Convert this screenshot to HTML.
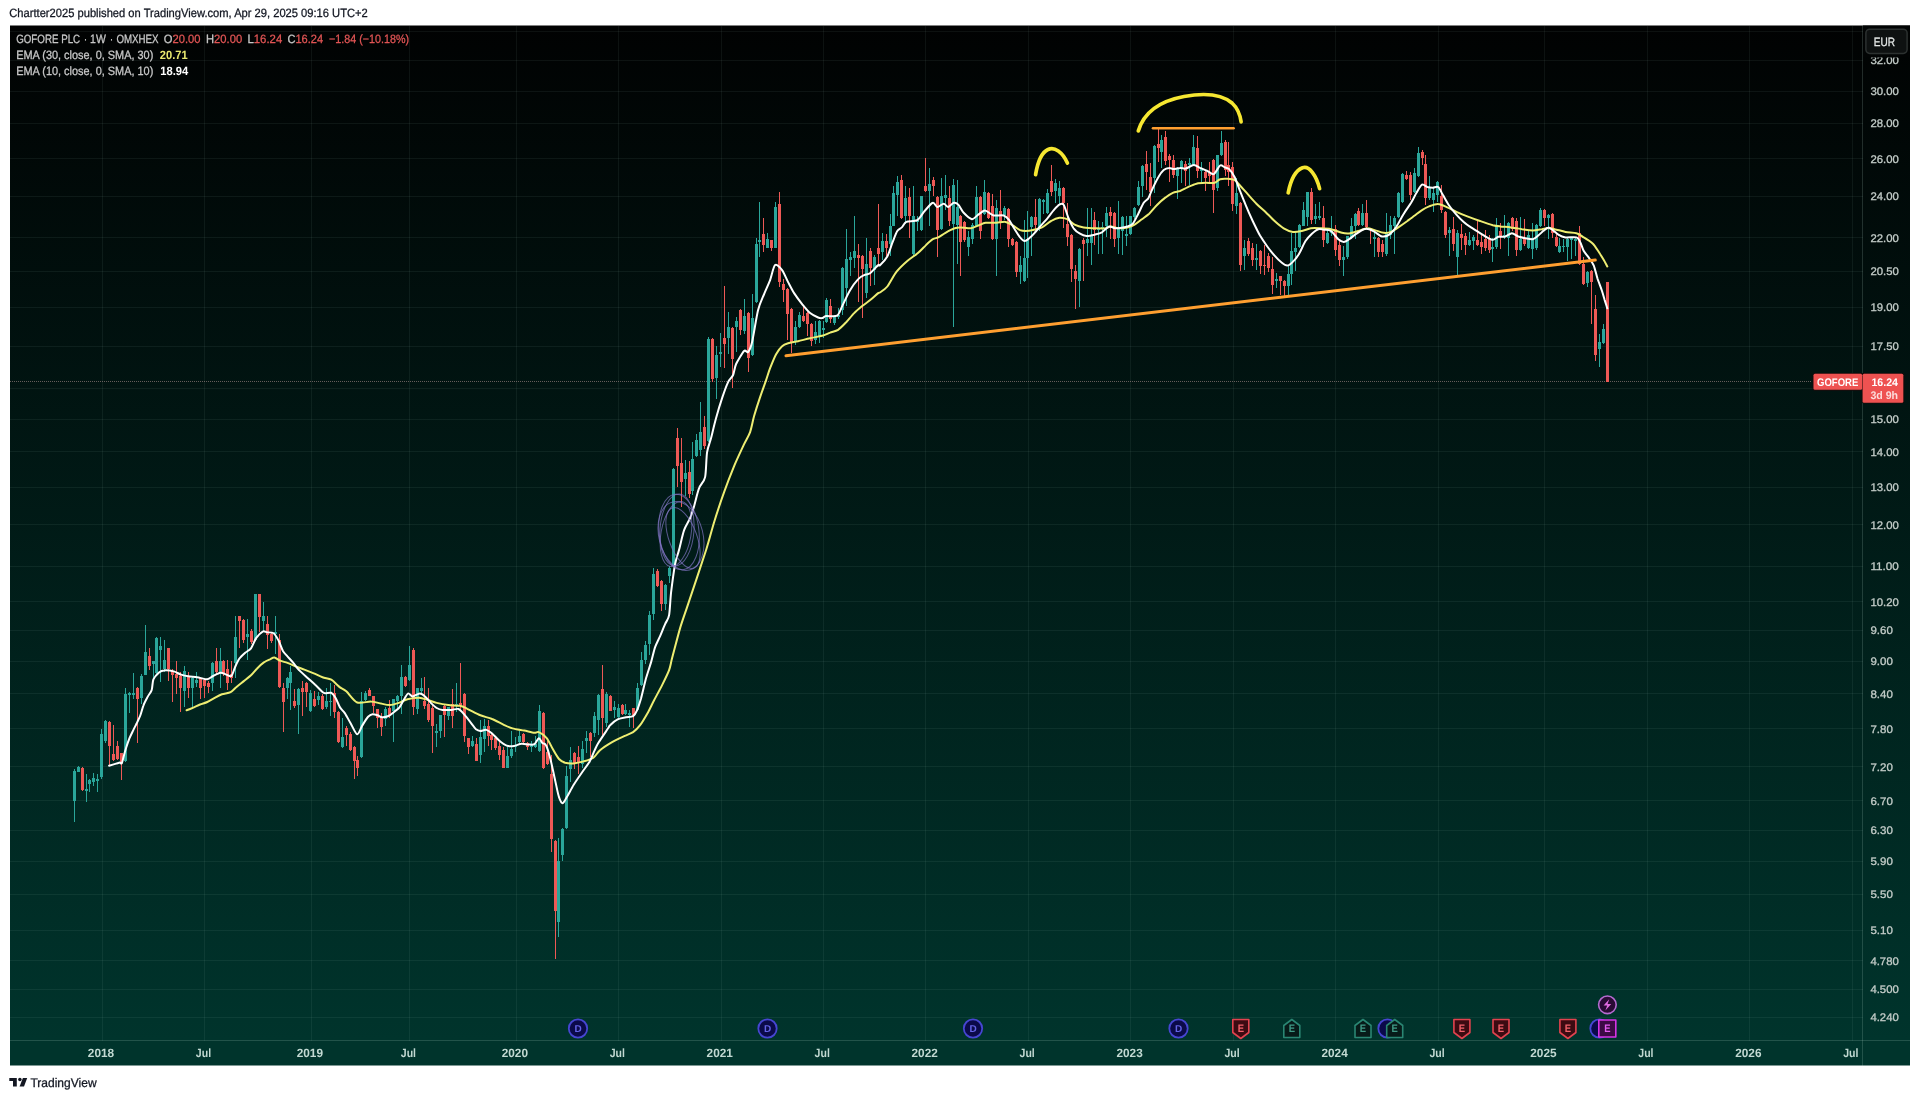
<!DOCTYPE html>
<html lang="en"><head><meta charset="utf-8"><title>GOFORE PLC 1W chart</title>
<style>html,body{margin:0;padding:0;background:#fff}body{width:1920px;height:1099px;overflow:hidden}svg{display:block}text{font-family:"Liberation Sans",sans-serif;font-size:12px;text-rendering:geometricPrecision;filter:url(#gs)}.b{font-weight:700}</style></head><body>
<svg width="1920" height="1099" viewBox="0 0 1920 1099">
<defs><linearGradient id="bg" gradientUnits="userSpaceOnUse" x1="0" y1="25.5" x2="0" y2="1040.5"><stop offset="0" stop-color="#010202"/><stop offset="1" stop-color="#00342c"/></linearGradient><filter id="gs" x="-5%" y="-20%" width="110%" height="140%"><feOffset dx="0" dy="0"/></filter><clipPath id="pane"><rect x="10" y="25.5" width="1852.5" height="1015.0"/></clipPath></defs>
<rect width="1920" height="1099" fill="#fff"/>
<text transform="translate(9.30 17.45) scale(0.9293 1)" fill="#131722" stroke="#131722" stroke-width="0.28">Chartter2025 published on TradingView.com, Apr 29, 2025 09:16 UTC+2</text>
<rect x="10" y="25.5" width="1900" height="1040.0" fill="url(#bg)"/>
<g stroke="#c8efe4" stroke-opacity="0.068" stroke-width="1" shape-rendering="crispEdges">
<line x1="10" y1="31.5" x2="1862.5" y2="31.5"/>
<line x1="10" y1="60.5" x2="1862.5" y2="60.5"/>
<line x1="10" y1="91.5" x2="1862.5" y2="91.5"/>
<line x1="10" y1="123.5" x2="1862.5" y2="123.5"/>
<line x1="10" y1="158.5" x2="1862.5" y2="158.5"/>
<line x1="10" y1="196.5" x2="1862.5" y2="196.5"/>
<line x1="10" y1="237.5" x2="1862.5" y2="237.5"/>
<line x1="10" y1="271.5" x2="1862.5" y2="271.5"/>
<line x1="10" y1="307.5" x2="1862.5" y2="307.5"/>
<line x1="10" y1="346.5" x2="1862.5" y2="346.5"/>
<line x1="10" y1="388.5" x2="1862.5" y2="388.5"/>
<line x1="10" y1="419.5" x2="1862.5" y2="419.5"/>
<line x1="10" y1="451.5" x2="1862.5" y2="451.5"/>
<line x1="10" y1="487.5" x2="1862.5" y2="487.5"/>
<line x1="10" y1="524.5" x2="1862.5" y2="524.5"/>
<line x1="10" y1="566.5" x2="1862.5" y2="566.5"/>
<line x1="10" y1="601.5" x2="1862.5" y2="601.5"/>
<line x1="10" y1="630.5" x2="1862.5" y2="630.5"/>
<line x1="10" y1="661.5" x2="1862.5" y2="661.5"/>
<line x1="10" y1="693.5" x2="1862.5" y2="693.5"/>
<line x1="10" y1="728.5" x2="1862.5" y2="728.5"/>
<line x1="10" y1="766.5" x2="1862.5" y2="766.5"/>
<line x1="10" y1="800.5" x2="1862.5" y2="800.5"/>
<line x1="10" y1="830.5" x2="1862.5" y2="830.5"/>
<line x1="10" y1="861.5" x2="1862.5" y2="861.5"/>
<line x1="10" y1="894.5" x2="1862.5" y2="894.5"/>
<line x1="10" y1="930.5" x2="1862.5" y2="930.5"/>
<line x1="10" y1="960.5" x2="1862.5" y2="960.5"/>
<line x1="10" y1="989.5" x2="1862.5" y2="989.5"/>
<line x1="10" y1="1017.5" x2="1862.5" y2="1017.5"/>
<line x1="102.5" y1="25.5" x2="102.5" y2="1040.5"/>
<line x1="204.5" y1="25.5" x2="204.5" y2="1040.5"/>
<line x1="311.5" y1="25.5" x2="311.5" y2="1040.5"/>
<line x1="409.5" y1="25.5" x2="409.5" y2="1040.5"/>
<line x1="516.5" y1="25.5" x2="516.5" y2="1040.5"/>
<line x1="618.5" y1="25.5" x2="618.5" y2="1040.5"/>
<line x1="721.5" y1="25.5" x2="721.5" y2="1040.5"/>
<line x1="823.5" y1="25.5" x2="823.5" y2="1040.5"/>
<line x1="925.5" y1="25.5" x2="925.5" y2="1040.5"/>
<line x1="1028.5" y1="25.5" x2="1028.5" y2="1040.5"/>
<line x1="1130.5" y1="25.5" x2="1130.5" y2="1040.5"/>
<line x1="1233.5" y1="25.5" x2="1233.5" y2="1040.5"/>
<line x1="1335.5" y1="25.5" x2="1335.5" y2="1040.5"/>
<line x1="1438.5" y1="25.5" x2="1438.5" y2="1040.5"/>
<line x1="1544.5" y1="25.5" x2="1544.5" y2="1040.5"/>
<line x1="1647.5" y1="25.5" x2="1647.5" y2="1040.5"/>
<line x1="1749.5" y1="25.5" x2="1749.5" y2="1040.5"/>
<line x1="1852.5" y1="25.5" x2="1852.5" y2="1040.5"/>
</g>
<g stroke="#c8efe4" stroke-opacity="0.17" stroke-width="1" shape-rendering="crispEdges"><line x1="1862.5" y1="25.5" x2="1862.5" y2="1065.5"/><line x1="10" y1="1040.5" x2="1910" y2="1040.5"/></g>
<line x1="10" y1="381.5" x2="1811" y2="381.5" stroke="#c9a5a3" stroke-opacity="0.5" stroke-width="1" stroke-dasharray="1 1" shape-rendering="crispEdges"/>
<g clip-path="url(#pane)" shape-rendering="crispEdges">
<path fill="#2aa69a" d="M74 769h1v53h-1zM78 766h1v6h-1zM86 774h1v28h-1zM89 779h1v13h-1zM93 773h1v13h-1zM97 774h1v18h-1zM101 729h1v50h-1zM105 720h1v23h-1zM125 688h1v74h-1zM129 692h1v21h-1zM133 673h1v26h-1zM141 674h1v30h-1zM145 625h1v50h-1zM153 661h1v17h-1zM156 637h1v37h-1zM160 637h1v45h-1zM164 640h1v32h-1zM184 666h1v41h-1zM192 676h1v31h-1zM196 672h1v15h-1zM212 662h1v29h-1zM220 648h1v40h-1zM235 616h1v62h-1zM247 619h1v41h-1zM255 594h1v47h-1zM263 602h1v30h-1zM275 616h1v38h-1zM287 677h1v22h-1zM290 666h1v44h-1zM298 688h1v46h-1zM310 690h1v22h-1zM318 692h1v13h-1zM326 688h1v21h-1zM330 683h1v33h-1zM342 718h1v30h-1zM361 692h1v66h-1zM365 691h1v10h-1zM385 707h1v19h-1zM393 699h1v43h-1zM397 695h1v14h-1zM401 665h1v49h-1zM409 646h1v35h-1zM417 688h1v26h-1zM421 678h1v16h-1zM436 724h1v23h-1zM440 715h1v23h-1zM448 707h1v13h-1zM456 683h1v29h-1zM472 736h1v11h-1zM480 720h1v43h-1zM484 719h1v33h-1zM507 747h1v21h-1zM511 731h1v27h-1zM515 737h1v15h-1zM519 731h1v12h-1zM531 741h1v11h-1zM535 736h1v12h-1zM539 705h1v47h-1zM558 838h1v99h-1zM562 828h1v33h-1zM566 766h1v63h-1zM570 747h1v35h-1zM582 741h1v27h-1zM586 731h1v22h-1zM594 712h1v25h-1zM598 694h1v41h-1zM606 692h1v35h-1zM614 701h1v17h-1zM618 704h1v14h-1zM625 704h1v11h-1zM629 710h1v17h-1zM637 683h1v28h-1zM641 652h1v34h-1zM645 641h1v23h-1zM649 611h1v44h-1zM653 568h1v52h-1zM665 584h1v26h-1zM669 566h1v17h-1zM673 468h1v99h-1zM685 460h1v36h-1zM692 442h1v53h-1zM696 434h1v23h-1zM700 402h1v54h-1zM708 337h1v105h-1zM716 346h1v53h-1zM720 333h1v34h-1zM728 312h1v42h-1zM736 317h1v35h-1zM744 299h1v35h-1zM752 294h1v62h-1zM756 238h1v65h-1zM759 202h1v55h-1zM767 233h1v15h-1zM775 202h1v46h-1zM795 321h1v24h-1zM799 312h1v16h-1zM815 321h1v23h-1zM819 320h1v23h-1zM823 321h1v17h-1zM826 298h1v25h-1zM834 316h1v9h-1zM838 308h1v11h-1zM842 267h1v48h-1zM846 229h1v77h-1zM850 252h1v24h-1zM854 216h1v52h-1zM866 238h1v60h-1zM874 255h1v30h-1zM882 233h1v27h-1zM890 214h1v42h-1zM893 186h1v40h-1zM897 176h1v40h-1zM905 186h1v38h-1zM913 186h1v70h-1zM917 216h1v15h-1zM921 196h1v35h-1zM929 168h1v58h-1zM941 178h1v52h-1zM945 175h1v35h-1zM953 179h1v148h-1zM957 180h1v84h-1zM968 231h1v25h-1zM972 223h1v21h-1zM976 186h1v41h-1zM984 180h1v35h-1zM996 200h1v76h-1zM1004 206h1v14h-1zM1020 256h1v28h-1zM1024 220h1v62h-1zM1027 211h1v67h-1zM1031 216h1v40h-1zM1039 198h1v33h-1zM1043 199h1v15h-1zM1047 189h1v25h-1zM1055 179h1v24h-1zM1059 181h1v23h-1zM1079 248h1v59h-1zM1087 208h1v48h-1zM1091 208h1v57h-1zM1098 221h1v33h-1zM1102 222h1v32h-1zM1106 207h1v30h-1zM1118 201h1v53h-1zM1122 216h1v39h-1zM1126 216h1v30h-1zM1130 216h1v19h-1zM1134 207h1v12h-1zM1138 181h1v25h-1zM1142 165h1v32h-1zM1154 145h1v48h-1zM1161 135h1v33h-1zM1177 167h1v32h-1zM1181 160h1v23h-1zM1189 158h1v27h-1zM1193 135h1v31h-1zM1201 162h1v21h-1zM1217 155h1v36h-1zM1221 131h1v25h-1zM1236 178h1v36h-1zM1244 240h1v30h-1zM1256 244h1v26h-1zM1276 273h1v15h-1zM1288 266h1v29h-1zM1291 233h1v52h-1zM1295 232h1v39h-1zM1299 224h1v24h-1zM1303 202h1v24h-1zM1307 192h1v34h-1zM1315 204h1v20h-1zM1319 202h1v18h-1zM1327 229h1v15h-1zM1331 216h1v20h-1zM1343 246h1v30h-1zM1347 236h1v23h-1zM1351 218h1v21h-1zM1355 213h1v26h-1zM1362 204h1v22h-1zM1374 232h1v25h-1zM1386 213h1v43h-1zM1390 216h1v23h-1zM1394 216h1v38h-1zM1398 192h1v26h-1zM1402 173h1v30h-1zM1414 168h1v25h-1zM1418 147h1v30h-1zM1429 176h1v24h-1zM1433 187h1v25h-1zM1437 181h1v21h-1zM1449 227h1v29h-1zM1457 230h1v45h-1zM1469 232h1v14h-1zM1473 235h1v15h-1zM1492 238h1v24h-1zM1496 218h1v31h-1zM1504 215h1v24h-1zM1508 222h1v34h-1zM1520 217h1v34h-1zM1528 230h1v19h-1zM1532 223h1v36h-1zM1536 224h1v26h-1zM1540 208h1v19h-1zM1548 214h1v25h-1zM1559 238h1v15h-1zM1563 239h1v13h-1zM1567 238h1v23h-1zM1571 237h1v22h-1zM1575 238h1v18h-1zM1587 271h1v16h-1zM1599 334h1v33h-1zM1603 324h1v20h-1zM73 771h3v30h-3zM77 767h3v5h-3zM85 789h3v2h-3zM88 780h3v4h-3zM92 778h3v4h-3zM96 779h3v2h-3zM100 734h3v43h-3zM104 721h3v20h-3zM124 694h3v67h-3zM128 693h3v2h-3zM132 693h3v2h-3zM140 676h3v22h-3zM144 652h3v23h-3zM152 661h3v3h-3zM155 638h3v35h-3zM159 646h3v4h-3zM163 660h3v9h-3zM183 671h3v20h-3zM191 678h3v10h-3zM195 680h3v3h-3zM211 663h3v20h-3zM219 661h3v12h-3zM234 637h3v26h-3zM246 634h3v3h-3zM254 594h3v46h-3zM262 616h3v5h-3zM274 632h3v2h-3zM286 678h3v10h-3zM289 672h3v11h-3zM297 689h3v16h-3zM309 693h3v18h-3zM317 696h3v4h-3zM325 701h3v6h-3zM329 701h3v1h-3zM341 737h3v10h-3zM360 701h3v56h-3zM364 693h3v7h-3zM384 709h3v10h-3zM392 699h3v12h-3zM396 696h3v5h-3zM400 677h3v19h-3zM408 665h3v15h-3zM416 688h3v21h-3zM420 688h3v3h-3zM435 731h3v2h-3zM439 715h3v16h-3zM447 707h3v9h-3zM455 704h3v1h-3zM471 741h3v5h-3zM479 737h3v18h-3zM483 726h3v13h-3zM506 756h3v12h-3zM510 749h3v7h-3zM514 745h3v2h-3zM518 736h3v6h-3zM530 745h3v2h-3zM534 744h3v3h-3zM538 711h3v40h-3zM557 861h3v61h-3zM561 829h3v26h-3zM565 776h3v52h-3zM569 760h3v9h-3zM581 749h3v15h-3zM585 738h3v3h-3zM593 716h3v17h-3zM597 695h3v25h-3zM605 694h3v29h-3zM613 707h3v3h-3zM617 708h3v9h-3zM624 710h3v4h-3zM628 713h3v2h-3zM636 688h3v22h-3zM640 660h3v25h-3zM644 645h3v15h-3zM648 615h3v29h-3zM652 574h3v40h-3zM664 585h3v19h-3zM668 568h3v8h-3zM672 469h3v97h-3zM684 473h3v6h-3zM691 459h3v32h-3zM695 440h3v16h-3zM699 432h3v18h-3zM707 339h3v102h-3zM715 355h3v23h-3zM719 352h3v2h-3zM727 327h3v11h-3zM735 321h3v6h-3zM743 316h3v15h-3zM751 318h3v37h-3zM755 244h3v58h-3zM758 240h3v2h-3zM766 239h3v9h-3zM774 207h3v41h-3zM794 327h3v15h-3zM798 315h3v12h-3zM814 332h3v8h-3zM818 321h3v16h-3zM822 328h3v2h-3zM825 300h3v22h-3zM833 317h3v6h-3zM837 315h3v2h-3zM841 268h3v42h-3zM845 259h3v29h-3zM849 257h3v3h-3zM853 251h3v7h-3zM865 264h3v29h-3zM873 257h3v13h-3zM881 241h3v11h-3zM889 226h3v18h-3zM892 193h3v33h-3zM896 182h3v13h-3zM904 198h3v18h-3zM912 216h3v38h-3zM916 220h3v2h-3zM920 196h3v34h-3zM928 184h3v7h-3zM940 196h3v33h-3zM944 195h3v3h-3zM952 185h3v39h-3zM956 207h3v18h-3zM967 237h3v10h-3zM971 225h3v14h-3zM975 197h3v29h-3zM983 192h3v22h-3zM995 208h3v31h-3zM1003 208h3v7h-3zM1019 265h3v7h-3zM1023 258h3v23h-3zM1026 239h3v19h-3zM1030 217h3v10h-3zM1038 199h3v30h-3zM1042 200h3v2h-3zM1046 193h3v20h-3zM1054 183h3v8h-3zM1058 188h3v8h-3zM1078 249h3v32h-3zM1086 239h3v4h-3zM1090 236h3v7h-3zM1097 228h3v2h-3zM1101 227h3v2h-3zM1105 213h3v13h-3zM1117 229h3v9h-3zM1121 217h3v14h-3zM1125 234h3v2h-3zM1129 216h3v18h-3zM1133 208h3v9h-3zM1137 187h3v18h-3zM1141 166h3v20h-3zM1153 146h3v32h-3zM1160 140h3v12h-3zM1176 168h3v8h-3zM1180 161h3v8h-3zM1188 163h3v2h-3zM1192 147h3v18h-3zM1200 169h3v2h-3zM1216 155h3v33h-3zM1220 143h3v12h-3zM1235 193h3v13h-3zM1243 248h3v8h-3zM1255 258h3v2h-3zM1275 279h3v2h-3zM1287 274h3v12h-3zM1290 251h3v23h-3zM1294 248h3v4h-3zM1298 225h3v22h-3zM1302 210h3v16h-3zM1306 192h3v25h-3zM1314 216h3v3h-3zM1318 216h3v2h-3zM1326 233h3v10h-3zM1330 231h3v2h-3zM1342 257h3v3h-3zM1346 236h3v21h-3zM1350 226h3v11h-3zM1354 214h3v12h-3zM1361 213h3v12h-3zM1373 237h3v2h-3zM1385 232h3v22h-3zM1389 225h3v10h-3zM1393 218h3v8h-3zM1397 193h3v24h-3zM1401 174h3v28h-3zM1413 173h3v19h-3zM1417 153h3v23h-3zM1428 188h3v10h-3zM1432 193h3v7h-3zM1436 182h3v13h-3zM1448 230h3v3h-3zM1456 233h3v24h-3zM1468 240h3v5h-3zM1472 237h3v4h-3zM1491 247h3v2h-3zM1495 226h3v21h-3zM1503 235h3v1h-3zM1507 223h3v15h-3zM1519 239h3v11h-3zM1527 235h3v13h-3zM1531 238h3v11h-3zM1535 225h3v23h-3zM1539 210h3v16h-3zM1547 215h3v3h-3zM1558 246h3v6h-3zM1562 246h3v1h-3zM1566 239h3v8h-3zM1570 238h3v2h-3zM1574 239h3v2h-3zM1586 272h3v11h-3zM1598 342h3v7h-3zM1602 329h3v14h-3z"/>
<path fill="#ee5956" d="M82 767h1v24h-1zM109 721h1v44h-1zM113 725h1v36h-1zM117 741h1v19h-1zM121 753h1v27h-1zM137 687h1v56h-1zM149 648h1v22h-1zM168 648h1v33h-1zM172 669h1v33h-1zM176 661h1v33h-1zM180 672h1v40h-1zM188 672h1v26h-1zM200 678h1v21h-1zM204 678h1v20h-1zM208 681h1v12h-1zM216 648h1v27h-1zM223 660h1v16h-1zM227 660h1v30h-1zM231 661h1v22h-1zM239 616h1v32h-1zM243 619h1v24h-1zM251 629h1v15h-1zM259 594h1v38h-1zM267 616h1v33h-1zM271 632h1v11h-1zM279 634h1v54h-1zM283 683h1v49h-1zM294 689h1v19h-1zM302 681h1v35h-1zM306 682h1v25h-1zM314 691h1v16h-1zM322 694h1v16h-1zM334 685h1v33h-1zM338 711h1v32h-1zM346 726h1v20h-1zM350 732h1v19h-1zM354 746h1v33h-1zM357 756h1v20h-1zM369 688h1v8h-1zM373 696h1v17h-1zM377 709h1v19h-1zM381 713h1v23h-1zM389 700h1v18h-1zM405 676h1v11h-1zM413 648h1v67h-1zM424 677h1v32h-1zM428 688h1v34h-1zM432 705h1v48h-1zM444 705h1v32h-1zM452 689h1v39h-1zM460 663h1v48h-1zM464 693h1v49h-1zM468 738h1v16h-1zM476 738h1v23h-1zM488 720h1v26h-1zM491 734h1v16h-1zM495 737h1v13h-1zM499 742h1v18h-1zM503 747h1v21h-1zM523 733h1v11h-1zM527 742h1v8h-1zM543 712h1v57h-1zM547 741h1v24h-1zM551 755h1v97h-1zM555 840h1v119h-1zM574 752h1v17h-1zM578 746h1v28h-1zM590 732h1v25h-1zM602 665h1v70h-1zM610 695h1v16h-1zM622 704h1v11h-1zM633 708h1v20h-1zM657 569h1v18h-1zM661 580h1v31h-1zM677 428h1v59h-1zM681 438h1v69h-1zM689 461h1v37h-1zM704 416h1v33h-1zM712 338h1v44h-1zM724 286h1v82h-1zM732 327h1v61h-1zM740 309h1v26h-1zM748 312h1v60h-1zM763 218h1v34h-1zM771 240h1v11h-1zM779 192h1v95h-1zM783 279h1v23h-1zM787 288h1v52h-1zM791 308h1v45h-1zM803 306h1v16h-1zM807 312h1v24h-1zM811 323h1v23h-1zM830 299h1v24h-1zM858 244h1v58h-1zM862 255h1v63h-1zM870 248h1v38h-1zM878 204h1v60h-1zM886 234h1v22h-1zM901 175h1v44h-1zM909 188h1v50h-1zM925 158h1v34h-1zM933 177h1v19h-1zM937 196h1v61h-1zM949 186h1v40h-1zM960 215h1v61h-1zM964 221h1v21h-1zM980 196h1v43h-1zM988 192h1v27h-1zM992 194h1v46h-1zM1000 190h1v39h-1zM1008 208h1v39h-1zM1012 238h1v8h-1zM1016 241h1v36h-1zM1035 199h1v32h-1zM1051 165h1v31h-1zM1063 187h1v41h-1zM1067 203h1v43h-1zM1071 234h1v48h-1zM1075 265h1v44h-1zM1083 238h1v43h-1zM1094 212h1v33h-1zM1110 207h1v32h-1zM1114 212h1v35h-1zM1146 151h1v39h-1zM1150 163h1v43h-1zM1158 129h1v33h-1zM1165 131h1v34h-1zM1169 154h1v28h-1zM1173 155h1v23h-1zM1185 161h1v25h-1zM1197 136h1v42h-1zM1205 171h1v20h-1zM1209 162h1v20h-1zM1213 159h1v54h-1zM1225 140h1v36h-1zM1228 142h1v44h-1zM1232 162h1v49h-1zM1240 202h1v69h-1zM1248 238h1v18h-1zM1252 243h1v23h-1zM1260 250h1v24h-1zM1264 245h1v30h-1zM1268 253h1v19h-1zM1272 257h1v37h-1zM1280 276h1v19h-1zM1284 280h1v16h-1zM1311 188h1v36h-1zM1323 206h1v41h-1zM1335 225h1v31h-1zM1339 239h1v27h-1zM1358 208h1v18h-1zM1366 200h1v28h-1zM1370 228h1v16h-1zM1378 237h1v20h-1zM1382 240h1v17h-1zM1406 171h1v9h-1zM1410 172h1v28h-1zM1422 150h1v15h-1zM1425 155h1v50h-1zM1441 185h1v28h-1zM1445 211h1v27h-1zM1453 217h1v34h-1zM1461 224h1v26h-1zM1465 233h1v22h-1zM1477 221h1v25h-1zM1481 235h1v19h-1zM1485 230h1v21h-1zM1489 235h1v18h-1zM1500 223h1v26h-1zM1512 217h1v14h-1zM1516 218h1v38h-1zM1524 219h1v27h-1zM1544 209h1v17h-1zM1552 213h1v25h-1zM1556 233h1v14h-1zM1579 226h1v39h-1zM1583 257h1v28h-1zM1591 270h1v54h-1zM1595 295h1v66h-1zM1607 282h1v100h-1zM81 768h3v22h-3zM108 722h3v24h-3zM112 754h3v6h-3zM116 746h3v13h-3zM120 753h3v10h-3zM136 688h3v11h-3zM148 656h3v10h-3zM167 648h3v21h-3zM171 671h3v4h-3zM175 674h3v4h-3zM179 676h3v12h-3zM187 677h3v11h-3zM199 678h3v10h-3zM203 680h3v6h-3zM207 683h3v4h-3zM215 661h3v11h-3zM222 661h3v13h-3zM226 669h3v14h-3zM230 674h3v4h-3zM238 616h3v5h-3zM242 620h3v20h-3zM250 631h3v11h-3zM258 594h3v23h-3zM266 624h3v11h-3zM270 634h3v7h-3zM278 640h3v47h-3zM282 688h3v14h-3zM293 701h3v5h-3zM301 688h3v4h-3zM305 683h3v9h-3zM313 699h3v7h-3zM321 696h3v13h-3zM333 693h3v19h-3zM337 712h3v30h-3zM345 728h3v7h-3zM349 734h3v16h-3zM353 747h3v14h-3zM356 760h3v8h-3zM368 690h3v6h-3zM372 696h3v10h-3zM376 709h3v9h-3zM380 718h3v9h-3zM388 708h3v7h-3zM404 677h3v9h-3zM412 650h3v57h-3zM423 701h3v5h-3zM427 704h3v16h-3zM431 708h3v18h-3zM443 706h3v9h-3zM451 704h3v12h-3zM459 703h3v2h-3zM463 694h3v42h-3zM467 738h3v9h-3zM475 744h3v17h-3zM487 726h3v10h-3zM490 735h3v5h-3zM494 738h3v10h-3zM498 746h3v9h-3zM502 750h3v18h-3zM522 734h3v8h-3zM526 743h3v4h-3zM542 713h3v55h-3zM546 752h3v12h-3zM550 774h3v65h-3zM554 841h3v70h-3zM573 753h3v10h-3zM577 757h3v5h-3zM589 733h3v8h-3zM601 689h3v29h-3zM609 696h3v15h-3zM621 705h3v9h-3zM632 708h3v8h-3zM656 571h3v15h-3zM660 581h3v23h-3zM676 438h3v28h-3zM680 463h3v19h-3zM688 472h3v22h-3zM703 427h3v19h-3zM711 339h3v40h-3zM723 338h3v6h-3zM731 328h3v31h-3zM739 310h3v20h-3zM747 313h3v45h-3zM762 234h3v11h-3zM770 240h3v8h-3zM778 204h3v78h-3zM782 284h3v6h-3zM786 289h3v25h-3zM790 309h3v33h-3zM802 316h3v5h-3zM806 313h3v11h-3zM810 324h3v17h-3zM829 306h3v13h-3zM857 255h3v3h-3zM861 256h3v13h-3zM869 251h3v17h-3zM877 248h3v6h-3zM885 241h3v7h-3zM900 180h3v38h-3zM908 197h3v19h-3zM924 186h3v5h-3zM932 180h3v6h-3zM936 197h3v33h-3zM948 198h3v23h-3zM959 216h3v26h-3zM963 222h3v18h-3zM979 197h3v34h-3zM987 193h3v25h-3zM991 206h3v33h-3zM999 211h3v11h-3zM1007 209h3v30h-3zM1011 239h3v6h-3zM1015 242h3v30h-3zM1034 217h3v8h-3zM1050 181h3v11h-3zM1062 188h3v15h-3zM1066 224h3v13h-3zM1070 235h3v34h-3zM1074 271h3v8h-3zM1082 240h3v4h-3zM1093 220h3v10h-3zM1109 212h3v4h-3zM1113 213h3v26h-3zM1145 164h3v8h-3zM1149 177h3v15h-3zM1157 144h3v4h-3zM1164 137h3v24h-3zM1168 156h3v4h-3zM1172 160h3v15h-3zM1184 164h3v7h-3zM1196 148h3v23h-3zM1204 172h3v6h-3zM1208 173h3v3h-3zM1212 160h3v30h-3zM1224 142h3v28h-3zM1227 165h3v7h-3zM1231 167h3v37h-3zM1239 203h3v62h-3zM1247 241h3v13h-3zM1251 248h3v12h-3zM1259 251h3v15h-3zM1263 265h3v1h-3zM1267 256h3v12h-3zM1271 269h3v16h-3zM1279 276h3v5h-3zM1283 281h3v5h-3zM1310 192h3v28h-3zM1322 218h3v22h-3zM1334 229h3v21h-3zM1338 245h3v15h-3zM1357 211h3v14h-3zM1365 213h3v14h-3zM1369 228h3v2h-3zM1377 238h3v14h-3zM1381 244h3v8h-3zM1405 175h3v4h-3zM1409 175h3v20h-3zM1421 152h3v6h-3zM1424 164h3v34h-3zM1440 196h3v14h-3zM1444 212h3v23h-3zM1452 229h3v15h-3zM1460 234h3v4h-3zM1464 236h3v9h-3zM1476 240h3v5h-3zM1480 242h3v5h-3zM1484 239h3v9h-3zM1488 239h3v11h-3zM1499 231h3v5h-3zM1511 218h3v11h-3zM1515 221h3v29h-3zM1523 238h3v6h-3zM1543 210h3v8h-3zM1551 214h3v19h-3zM1555 237h3v9h-3zM1578 233h3v31h-3zM1582 264h3v20h-3zM1590 271h3v11h-3zM1594 309h3v46h-3zM1606 282h3v100h-3z"/>
</g>
<g clip-path="url(#pane)" fill="none" stroke-linejoin="round" stroke-linecap="round">
<path d="M186.6 710.3C187.4 710.0 190.8 708.7 192.7 707.8C194.6 707.0 198.0 705.3 200.0 704.5C202.0 703.7 205.3 702.9 207.3 702.0C209.3 701.1 212.5 699.0 214.6 697.9C216.6 696.8 219.6 695.1 221.9 694.3C224.1 693.5 228.6 693.1 230.6 692.1C232.7 691.1 234.6 688.5 236.5 687.0C238.3 685.4 241.7 682.8 243.8 681.1C245.8 679.5 249.2 677.0 251.0 675.3C252.9 673.6 255.0 670.6 256.9 668.8C258.7 666.9 262.3 663.5 264.2 662.2C266.0 660.9 268.6 659.9 270.0 659.3C271.4 658.6 273.0 657.2 274.4 657.4C275.8 657.6 278.4 660.0 280.2 660.7C282.1 661.5 285.3 662.1 287.5 662.9C289.8 663.7 293.8 665.6 296.3 666.6C298.7 667.5 302.6 669.0 305.0 669.9C307.5 670.9 311.3 672.4 313.8 673.4C316.2 674.4 320.1 676.3 322.5 677.2C325.0 678.1 329.2 678.6 331.3 679.7C333.3 680.8 335.9 683.7 337.1 684.8C338.3 685.9 338.7 686.5 340.0 687.4C341.3 688.3 343.8 689.1 346.3 691.3C348.7 693.4 353.7 701.1 357.2 702.5C360.7 703.9 367.7 701.3 371.0 701.5C374.4 701.6 378.6 703.1 381.3 703.6C383.9 704.2 387.6 705.2 390.0 705.1C392.5 705.0 396.3 703.7 398.8 702.9C401.2 702.1 404.6 700.0 407.5 699.3C410.4 698.6 416.3 697.7 419.2 697.8C422.0 697.9 425.5 699.3 427.9 700.0C430.4 700.7 433.8 702.2 436.7 702.9C439.5 703.6 445.1 704.7 448.3 705.1C451.6 705.5 457.3 705.3 460.0 705.8C462.7 706.3 464.4 707.4 467.3 708.8C470.2 710.1 476.9 713.9 480.4 715.3C483.9 716.7 488.8 717.6 492.1 719.0C495.4 720.3 500.9 723.5 503.8 724.8C506.6 726.1 509.6 727.6 512.5 728.4C515.4 729.3 521.1 730.0 524.2 730.6C527.2 731.2 532.3 732.6 534.4 732.8C536.4 733.0 537.0 731.3 538.8 732.1C540.5 732.8 544.7 735.7 546.7 738.1C548.7 740.5 551.1 746.2 552.8 749.1C554.5 752.1 557.2 757.1 559.0 759.0C560.7 760.9 563.0 762.0 565.1 762.7C567.2 763.3 571.1 763.6 573.7 763.4C576.3 763.2 580.8 762.2 583.5 761.4C586.3 760.6 591.1 759.3 593.4 757.7C595.7 756.2 597.4 752.4 600.0 750.2C602.7 748.0 608.7 744.2 612.1 742.2C615.4 740.2 621.1 737.6 624.1 736.2C627.0 734.8 630.8 733.7 633.1 732.2C635.3 730.7 638.0 728.0 640.1 725.2C642.2 722.4 646.1 715.7 648.1 712.2C650.1 708.7 652.1 703.9 654.1 700.2C656.1 696.4 660.0 689.3 662.1 685.1C664.2 680.9 667.7 673.9 669.1 670.1C670.5 666.3 670.6 664.0 672.1 658.1C673.7 652.2 677.9 635.7 680.1 628.1C682.4 620.5 684.5 615.0 688.1 604.1C691.8 593.1 702.4 561.5 706.1 550.0C709.7 538.6 711.6 530.3 714.1 522.2C716.6 514.1 721.3 500.0 724.1 492.2C726.9 484.3 731.3 472.9 734.1 466.1C736.9 459.4 741.9 448.9 744.1 444.1C746.4 439.3 748.7 436.0 750.1 432.1C751.5 428.2 752.7 421.0 754.1 416.1C755.5 411.2 758.4 402.1 760.1 397.1C761.8 392.0 764.7 384.1 766.1 380.1C767.5 376.0 768.7 371.8 770.1 368.2C771.5 364.6 774.4 357.3 776.1 354.2C777.8 351.1 780.4 347.7 782.1 346.2C783.8 344.6 785.9 343.9 788.1 343.2C790.3 342.5 795.0 341.9 798.1 341.2C801.2 340.5 806.8 338.9 810.1 338.2C813.5 337.4 819.3 336.6 822.1 335.8C824.9 335.0 827.9 333.4 830.1 332.6C832.4 331.7 835.9 331.2 838.1 329.8C840.4 328.3 843.9 324.5 846.2 322.2C848.4 319.8 851.9 315.4 854.2 313.1C856.4 310.9 859.9 308.0 862.2 306.1C864.4 304.3 867.9 302.0 870.2 300.1C872.4 298.3 876.8 294.2 878.2 293.1C879.6 292.1 878.7 293.4 880.0 292.5C881.3 291.6 885.0 289.4 887.3 286.5C889.6 283.6 893.6 275.5 896.4 271.9C899.2 268.4 904.2 263.7 907.3 261.0C910.4 258.3 915.7 255.0 918.2 252.8C920.8 250.7 923.5 247.5 925.5 245.6C927.5 243.6 931.0 240.3 932.8 239.2C934.6 238.0 936.5 238.3 938.2 237.4C940.0 236.5 943.2 234.1 945.5 232.8C947.8 231.5 952.6 229.0 954.6 228.3C956.7 227.5 957.8 227.4 960.1 227.4C962.4 227.4 968.4 228.5 971.0 228.3C973.5 228.0 976.2 226.3 978.3 225.5C980.3 224.8 983.0 223.2 985.6 222.8C988.1 222.4 993.7 222.9 996.5 222.8C999.3 222.7 1003.3 221.5 1005.6 221.9C1007.9 222.3 1010.8 224.4 1012.8 225.5C1014.9 226.7 1018.3 229.3 1020.1 230.1C1021.9 230.8 1023.8 231.0 1025.6 231.0C1027.4 231.0 1030.6 230.6 1032.9 230.1C1035.2 229.6 1039.4 228.6 1042.0 227.4C1044.5 226.1 1048.6 222.3 1051.1 221.0C1053.5 219.6 1057.0 218.0 1059.3 217.7C1061.5 217.5 1065.1 218.2 1067.3 219.2C1069.4 220.2 1072.3 223.5 1074.6 224.6C1076.9 225.8 1080.6 226.9 1083.7 227.4C1086.7 227.9 1093.3 228.2 1096.4 228.3C1099.5 228.4 1103.5 228.5 1105.5 228.3C1107.5 228.0 1109.2 226.5 1111.0 226.5C1112.7 226.5 1115.9 228.2 1118.2 228.3C1120.5 228.4 1125.0 227.9 1127.3 227.4C1129.6 226.9 1132.6 225.8 1134.6 224.6C1136.7 223.5 1139.9 220.7 1141.9 219.2C1143.9 217.7 1147.1 215.6 1149.2 213.7C1151.2 211.8 1154.2 207.8 1156.5 205.5C1158.7 203.2 1163.3 199.1 1165.6 197.4C1167.8 195.6 1170.8 193.7 1172.8 192.8C1174.9 191.9 1178.1 191.7 1180.1 191.0C1182.1 190.2 1185.1 188.4 1187.4 187.3C1189.7 186.3 1193.9 184.3 1196.5 183.7C1199.0 183.1 1203.0 182.9 1205.6 182.8C1208.1 182.7 1212.6 183.3 1214.7 182.8C1216.7 182.3 1218.4 179.7 1220.1 179.2C1221.9 178.6 1225.4 178.7 1227.4 178.8C1229.5 178.9 1232.9 179.1 1234.7 180.1C1236.5 181.0 1238.2 183.6 1240.0 185.5C1241.8 187.4 1245.0 191.1 1247.3 193.7C1249.6 196.2 1253.8 201.2 1256.4 203.7C1258.9 206.3 1262.9 209.5 1265.5 211.9C1268.0 214.3 1272.0 218.7 1274.6 221.0C1277.1 223.3 1281.1 226.7 1283.7 228.3C1286.2 229.8 1290.2 231.5 1292.8 231.9C1295.3 232.3 1299.3 231.5 1301.9 231.0C1304.4 230.5 1308.4 228.7 1311.0 228.3C1313.5 227.9 1317.3 228.1 1320.1 228.3C1322.9 228.4 1327.9 228.5 1331.0 229.2C1334.0 229.8 1339.4 232.2 1341.9 232.8C1344.5 233.4 1346.9 233.6 1349.2 233.4C1351.5 233.1 1355.7 231.7 1358.3 231.0C1360.8 230.3 1365.1 228.4 1367.4 228.3C1369.7 228.1 1372.4 229.5 1374.7 230.1C1377.0 230.7 1381.5 232.6 1383.8 232.8C1386.1 233.1 1389.0 232.7 1391.0 231.9C1393.1 231.1 1396.0 228.9 1398.3 227.4C1400.6 225.8 1405.1 222.6 1407.4 221.0C1409.7 219.3 1412.7 217.1 1414.7 215.5C1416.7 214.0 1420.0 211.3 1422.0 210.1C1424.0 208.8 1426.8 207.3 1429.1 206.4C1431.4 205.6 1435.7 203.9 1438.2 204.1C1440.7 204.2 1444.7 206.2 1447.3 207.3C1449.8 208.4 1453.6 210.6 1456.4 211.9C1459.2 213.2 1464.0 215.2 1467.3 216.4C1470.6 217.7 1476.5 219.8 1480.1 221.0C1483.6 222.2 1490.0 224.4 1492.8 225.2C1495.6 225.9 1497.5 226.1 1500.1 226.4C1502.6 226.7 1507.9 227.0 1511.0 227.4C1514.0 227.7 1518.9 228.7 1521.9 229.2C1525.0 229.6 1530.0 230.4 1532.8 230.4C1535.6 230.4 1539.8 229.5 1541.9 229.2C1544.1 228.8 1546.5 227.9 1548.3 227.9C1550.1 227.9 1552.2 228.6 1554.7 229.2C1557.1 229.7 1562.5 231.3 1565.6 231.9C1568.6 232.5 1574.0 232.4 1576.5 233.2C1579.1 233.9 1581.5 235.9 1583.8 237.4C1586.1 238.8 1590.7 241.6 1592.9 243.7C1595.1 245.9 1597.7 250.5 1599.3 252.8C1600.8 255.1 1602.7 258.2 1603.8 260.1C1604.9 262.0 1606.8 265.6 1607.3 266.5" stroke="#eeee72" stroke-width="2"/>
<path d="M109.1 765.8C110.0 765.5 114.5 764.1 116.1 763.6C117.6 763.2 119.1 762.7 119.9 762.6C120.7 762.6 121.3 764.2 121.8 763.3C122.3 762.4 123.1 758.5 123.7 756.3C124.3 754.0 125.5 749.8 126.3 747.3C127.1 744.8 128.5 740.8 129.4 738.4C130.4 736.0 132.3 732.2 133.3 730.1C134.2 728.1 135.5 725.8 136.5 723.8C137.4 721.7 139.3 718.1 140.3 715.5C141.3 712.9 142.4 708.0 143.5 705.3C144.5 702.6 146.8 698.5 147.9 696.4C149.1 694.2 151.0 692.4 151.7 690.0C152.5 687.6 152.4 681.8 153.4 679.3C154.5 676.9 157.8 673.5 159.3 672.2C160.8 671.0 162.1 670.5 164.1 670.4C166.1 670.2 171.4 670.8 173.8 671.4C176.1 672.0 179.0 673.9 181.0 674.6C183.1 675.3 186.1 676.0 188.3 676.3C190.6 676.7 194.4 676.8 197.1 677.2C199.7 677.6 205.0 679.4 207.3 679.3C209.5 679.1 211.3 676.9 213.1 676.0C215.0 675.1 218.6 673.0 220.4 672.8C222.3 672.6 224.7 674.1 226.3 674.6C227.8 675.0 230.1 677.1 231.4 676.0C232.6 675.0 233.9 669.7 235.0 667.3C236.1 664.8 237.9 660.6 239.4 658.5C240.8 656.5 243.6 654.1 245.2 652.7C246.8 651.3 249.5 650.4 251.0 648.3C252.6 646.3 254.5 640.5 256.1 638.1C257.8 635.8 261.2 632.4 262.7 631.6C264.2 630.7 265.6 632.0 267.1 632.3C268.6 632.5 272.0 632.1 273.7 633.3C275.3 634.5 277.4 638.5 278.8 641.0C280.1 643.6 281.9 649.1 283.1 651.3C284.4 653.4 286.1 654.7 287.5 656.4C288.9 658.0 291.7 661.0 293.3 662.9C295.0 664.9 297.1 668.1 299.2 670.2C301.2 672.4 305.7 676.2 307.9 678.2C310.2 680.3 313.2 682.9 315.2 684.8C317.3 686.7 321.1 690.9 322.5 692.1C323.9 693.3 324.2 693.2 325.4 693.3C326.6 693.4 329.8 692.2 331.3 692.8C332.7 693.5 334.4 695.9 335.6 697.9C336.9 700.0 338.7 705.3 340.0 707.4C341.3 709.5 343.3 710.9 344.8 713.1C346.3 715.4 348.9 720.4 350.6 723.3C352.4 726.3 355.6 734.0 357.2 734.3C358.8 734.6 360.8 728.0 362.3 725.5C363.8 723.1 366.7 718.3 368.1 716.8C369.6 715.2 371.2 714.5 372.5 714.3C373.8 714.1 376.3 714.9 377.6 715.3C378.9 715.7 380.4 717.1 382.0 717.2C383.5 717.3 386.8 716.8 388.5 716.0C390.3 715.3 392.8 712.9 394.4 711.7C395.9 710.4 398.1 709.1 399.5 707.3C400.9 705.5 403.4 700.5 404.6 698.5C405.8 696.6 407.1 693.7 408.2 693.4C409.4 693.1 411.0 696.4 412.6 696.4C414.2 696.4 418.2 693.4 419.9 693.4C421.6 693.4 423.5 695.0 425.0 696.4C426.5 697.7 429.2 701.3 430.8 702.9C432.5 704.6 435.0 707.0 436.7 708.0C438.3 709.0 440.5 709.7 442.5 709.9C444.5 710.2 449.0 710.0 451.3 709.9C453.5 709.8 456.7 708.4 458.5 709.0C460.4 709.7 462.7 712.8 464.4 714.6C466.0 716.4 468.6 719.8 470.2 721.9C471.8 723.9 474.6 727.9 476.0 729.2C477.5 730.4 479.0 730.8 480.4 730.9C481.8 731.0 484.6 729.5 486.3 729.9C487.9 730.3 490.2 732.0 492.1 733.5C493.9 735.1 497.3 739.1 499.4 740.8C501.4 742.5 504.6 744.9 506.7 745.6C508.7 746.4 511.9 746.2 514.0 745.9C516.0 745.7 519.2 744.0 521.3 743.8C523.3 743.5 526.7 744.4 528.5 744.5C530.4 744.5 533.0 745.1 534.4 744.2C535.8 743.3 537.6 738.4 538.8 738.2C539.9 738.0 541.4 742.0 542.4 743.0C543.4 744.0 544.9 743.0 546.0 745.2C547.2 747.4 549.1 753.9 550.4 759.0C551.7 764.0 554.1 775.7 555.3 781.1C556.5 786.4 557.9 794.0 559.0 797.1C560.0 800.1 561.4 803.4 562.7 803.2C563.9 803.0 566.0 798.4 567.6 795.8C569.1 793.2 571.8 787.9 573.7 784.8C575.6 781.7 578.8 777.0 581.1 773.7C583.3 770.4 587.8 764.7 589.7 761.4C591.6 758.2 593.4 752.9 594.6 750.4C595.8 747.8 596.4 746.1 598.3 743.0C600.2 739.9 606.5 730.7 608.1 728.3C609.8 725.8 608.7 726.5 610.1 725.2C611.4 723.9 615.8 720.3 618.1 719.2C620.3 718.1 624.0 717.6 626.1 717.2C628.2 716.8 631.5 717.2 633.1 716.2C634.6 715.2 636.0 712.7 637.1 710.2C638.2 707.6 639.8 702.6 641.1 698.2C642.3 693.7 644.7 683.2 646.1 678.1C647.5 673.1 649.8 666.5 651.1 662.1C652.4 657.8 653.8 650.8 655.1 647.1C656.4 643.5 658.7 639.3 660.1 636.1C661.5 632.9 663.8 627.0 665.1 624.1C666.4 621.1 668.3 619.6 669.1 615.1C669.9 610.6 670.3 599.2 671.1 592.1C672.0 584.9 674.0 569.9 675.1 564.0C676.2 558.1 677.8 554.8 679.0 550.0C680.3 545.3 682.5 534.7 684.1 530.2C685.6 525.7 688.7 521.6 690.1 518.2C691.5 514.8 692.8 510.4 694.1 506.2C695.3 502.0 697.5 492.2 699.1 488.2C700.6 484.1 704.0 482.2 705.1 477.1C706.2 472.1 706.2 457.6 707.1 452.1C707.9 446.7 709.8 442.9 711.1 438.1C712.3 433.3 714.5 423.7 716.1 418.1C717.6 412.5 720.4 403.1 722.1 398.1C723.8 393.0 726.6 385.3 728.1 382.1C729.6 378.8 732.0 377.6 733.1 375.0C734.2 372.5 734.6 367.4 736.1 364.0C737.6 360.7 742.4 352.7 744.1 351.0C745.8 349.3 747.0 353.3 748.1 352.0C749.2 350.8 750.7 347.9 752.1 342.0C753.5 336.1 756.4 316.8 758.1 310.1C759.7 303.4 762.4 298.3 764.1 294.1C765.8 289.9 768.5 284.2 770.1 280.1C771.6 276.0 773.4 266.5 775.1 265.1C776.8 263.7 780.3 267.7 782.1 270.1C783.9 272.5 786.4 278.9 788.1 282.1C789.8 285.3 792.1 290.0 794.1 293.1C796.1 296.2 799.9 301.3 802.1 304.1C804.4 306.9 807.9 311.3 810.1 313.1C812.4 315.0 816.4 316.8 818.1 317.5C819.8 318.2 821.0 318.3 822.1 318.1C823.3 318.0 824.0 316.5 826.1 316.1C828.2 315.8 834.9 317.1 837.1 315.7C839.4 314.3 840.3 309.7 842.2 306.1C844.0 302.5 847.9 293.9 850.2 290.1C852.4 286.3 856.2 281.2 858.2 279.1C860.1 277.0 862.5 275.9 864.2 275.1C865.9 274.3 868.2 274.5 870.2 273.1C872.1 271.7 876.8 266.2 878.2 265.1C879.6 264.0 878.7 266.4 880.0 265.2C881.3 264.0 885.5 259.7 887.3 256.5C889.1 253.2 891.3 245.5 892.7 241.9C894.1 238.3 896.0 233.0 897.3 231.0C898.6 229.0 900.6 228.6 901.8 227.4C903.1 226.1 904.2 222.9 906.4 221.9C908.6 220.9 914.8 221.6 917.3 220.1C919.9 218.5 922.4 213.4 924.6 211.0C926.8 208.6 931.0 203.3 932.8 202.8C934.6 202.2 935.8 206.8 937.3 207.0C938.9 207.1 942.2 203.7 943.7 203.7C945.2 203.7 946.8 207.1 948.2 207.0C949.6 206.8 952.3 203.1 953.7 202.8C955.1 202.5 956.9 203.2 958.3 204.6C959.7 206.0 961.8 210.8 963.7 212.8C965.6 214.8 969.9 218.9 971.9 219.2C973.9 219.4 976.5 215.8 978.3 214.6C980.1 213.4 983.1 210.9 984.6 210.6C986.2 210.4 987.9 212.1 989.2 212.8C990.5 213.5 991.7 215.1 993.7 215.5C995.8 215.9 1001.6 214.9 1003.7 215.5C1005.9 216.2 1007.7 218.2 1009.2 220.1C1010.7 222.0 1013.1 226.8 1014.7 229.2C1016.2 231.6 1018.7 235.7 1020.1 237.4C1021.5 239.0 1023.4 240.9 1024.7 241.0C1026.0 241.1 1027.8 239.4 1029.2 238.3C1030.6 237.1 1033.2 234.5 1034.7 232.8C1036.2 231.2 1038.4 228.5 1040.1 226.4C1041.9 224.4 1045.5 220.5 1047.4 218.3C1049.3 216.0 1052.1 212.0 1053.8 210.1C1055.5 208.2 1057.9 205.4 1059.3 204.6C1060.6 203.8 1062.4 202.8 1063.6 204.6C1064.9 206.4 1066.8 214.1 1068.2 217.4C1069.6 220.7 1072.0 226.0 1073.6 228.3C1075.3 230.6 1078.2 232.7 1080.0 233.7C1081.8 234.8 1084.3 235.8 1086.4 235.9C1088.4 236.1 1092.4 235.2 1094.6 234.7C1096.7 234.1 1099.8 233.4 1101.9 232.3C1103.9 231.1 1107.4 227.0 1109.1 226.5C1110.9 225.9 1113.1 228.1 1114.6 228.3C1116.1 228.5 1118.3 228.2 1120.1 227.9C1121.8 227.7 1125.6 227.1 1127.3 226.5C1129.1 225.9 1131.3 225.5 1132.8 223.7C1134.3 222.0 1136.7 216.7 1138.3 213.7C1139.8 210.8 1142.3 205.0 1143.7 202.8C1145.1 200.6 1147.1 200.0 1148.3 198.3C1149.4 196.5 1150.5 193.0 1151.9 190.1C1153.3 187.1 1156.6 180.1 1158.3 177.3C1159.9 174.5 1162.2 171.4 1163.7 170.1C1165.3 168.7 1167.8 168.0 1169.2 167.9C1170.6 167.7 1172.2 169.1 1173.7 169.1C1175.3 169.1 1178.5 167.9 1180.1 167.9C1181.8 167.8 1183.7 169.0 1185.6 168.6C1187.5 168.2 1191.7 165.1 1193.8 165.0C1195.8 164.9 1198.2 167.0 1200.1 167.9C1202.0 168.7 1205.5 170.1 1207.4 171.0C1209.3 171.8 1212.0 174.8 1213.8 174.1C1215.6 173.3 1218.6 166.4 1220.1 165.5C1221.7 164.6 1223.4 166.8 1224.7 167.3C1226.0 167.8 1227.8 167.7 1229.2 169.1C1230.6 170.5 1233.2 174.3 1234.7 177.3C1236.2 180.4 1238.5 187.1 1240.0 191.0C1241.5 194.8 1243.7 200.4 1245.5 204.6C1247.2 208.8 1250.7 216.7 1252.7 221.0C1254.8 225.3 1258.0 232.0 1260.0 235.6C1262.1 239.1 1265.3 243.7 1267.3 246.5C1269.3 249.3 1272.5 253.3 1274.6 255.6C1276.6 257.9 1280.1 261.4 1281.9 262.8C1283.6 264.2 1285.8 265.7 1287.3 265.6C1288.8 265.5 1291.1 263.6 1292.8 261.9C1294.4 260.3 1297.4 256.7 1299.1 253.7C1300.9 250.8 1303.7 243.8 1305.5 241.0C1307.3 238.2 1310.1 235.4 1311.9 233.7C1313.7 232.1 1316.6 229.7 1318.3 229.2C1319.9 228.6 1321.9 229.5 1323.7 229.7C1325.5 230.0 1329.0 229.7 1331.0 231.0C1333.0 232.3 1336.5 237.7 1338.3 239.2C1340.1 240.7 1342.2 241.9 1343.7 241.9C1345.3 241.9 1347.4 240.3 1349.2 239.2C1351.0 238.0 1354.4 235.1 1356.5 233.7C1358.5 232.3 1362.0 229.8 1363.7 229.2C1365.5 228.5 1367.7 228.8 1369.2 229.2C1370.7 229.6 1372.9 230.9 1374.7 231.9C1376.5 232.9 1379.9 236.1 1381.9 236.5C1384.0 236.8 1387.2 236.0 1389.2 234.6C1391.3 233.2 1394.5 229.4 1396.5 226.5C1398.5 223.5 1401.7 217.0 1403.8 213.7C1405.8 210.4 1409.3 205.7 1411.1 202.8C1412.8 199.9 1415.0 195.3 1416.5 192.8C1418.1 190.2 1420.5 185.4 1422.0 184.6C1423.5 183.8 1425.8 186.5 1427.3 187.0C1428.8 187.4 1431.2 187.7 1432.7 187.7C1434.3 187.7 1436.8 186.0 1438.2 187.0C1439.6 187.9 1441.2 192.0 1442.7 194.6C1444.3 197.2 1447.2 202.7 1449.1 205.5C1451.0 208.3 1454.4 212.3 1456.4 214.6C1458.4 216.9 1461.6 220.1 1463.7 221.9C1465.7 223.7 1468.9 226.0 1471.0 227.4C1473.0 228.8 1476.2 230.6 1478.2 231.9C1480.3 233.2 1483.5 235.4 1485.5 236.5C1487.6 237.5 1491.0 239.7 1492.8 239.7C1494.6 239.8 1496.5 237.3 1498.3 236.8C1500.0 236.4 1503.6 237.0 1505.5 236.5C1507.4 235.9 1510.1 233.2 1511.9 233.2C1513.7 233.2 1516.4 235.7 1518.3 236.5C1520.2 237.2 1523.5 237.9 1525.6 238.3C1527.6 238.7 1531.0 239.6 1532.8 239.2C1534.6 238.8 1536.8 236.7 1538.3 235.5C1539.8 234.3 1542.3 231.8 1543.7 230.6C1545.2 229.5 1547.0 227.4 1548.3 227.4C1549.6 227.3 1551.4 229.1 1552.8 230.1C1554.2 231.1 1556.5 233.6 1558.3 234.6C1560.1 235.7 1563.0 237.0 1565.6 237.4C1568.1 237.7 1574.5 236.7 1576.5 237.4C1578.5 238.0 1579.1 240.0 1580.1 241.9C1581.2 243.8 1582.5 248.7 1583.8 251.0C1585.1 253.3 1587.8 256.3 1589.2 258.3C1590.6 260.3 1592.6 262.8 1593.8 265.6C1594.9 268.4 1596.3 274.7 1597.4 278.3C1598.6 281.9 1601.0 288.0 1602.0 291.0C1603.0 294.1 1604.0 297.7 1604.7 300.1C1605.5 302.6 1606.9 307.2 1607.3 308.3" stroke="#ffffff" stroke-width="2"/>
<path d="M786 355.7L1595.3 260.1" stroke="#ff9f30" stroke-width="3"/>
<path d="M1153 128.2H1233.6" stroke="#ff9f30" stroke-width="2.6"/>
<path d="M1035.6 174.6C1037.5 163 1041.5 152.5 1048 149.5C1054.5 146.3 1062.5 152 1067.4 163" stroke="#f6e731" stroke-width="3.7"/>
<path d="M1138.3 130.9C1144 112 1160 101 1184 96.5C1204 92.8 1222 94.5 1232 103C1237.5 108 1240 114 1241.1 121.8" stroke="#f6e731" stroke-width="3.7"/>
<path d="M1288.2 192.8C1290.5 181 1295.5 170.5 1302.5 167.8C1309.5 165.3 1316.5 176 1319.6 188.6" stroke="#f6e731" stroke-width="3.7"/>
<g stroke="#8577c8" stroke-width="1" stroke-opacity="0.68"><ellipse cx="679" cy="532" rx="20" ry="38" transform="rotate(-6 679 532)"/><ellipse cx="677" cy="530" rx="17" ry="36" transform="rotate(4 677 530)"/><ellipse cx="681" cy="536" rx="22" ry="35" transform="rotate(-14 681 536)"/><ellipse cx="676" cy="534" rx="15" ry="33" transform="rotate(10 676 534)"/><ellipse cx="683" cy="538" rx="14" ry="32" transform="rotate(-20 683 538)"/></g>
</g>
<circle cx="578" cy="1028.5" r="9.2" fill="#0b0a4a" stroke="#4646d2" stroke-width="1.8"/>
<text x="578" y="1032.1" text-anchor="middle" fill="#6363e6" style="font-size:10px" class="b">D</text>
<circle cx="767.5" cy="1028.5" r="9.2" fill="#0b0a4a" stroke="#4646d2" stroke-width="1.8"/>
<text x="767.5" y="1032.1" text-anchor="middle" fill="#6363e6" style="font-size:10px" class="b">D</text>
<circle cx="973" cy="1028.5" r="9.2" fill="#0b0a4a" stroke="#4646d2" stroke-width="1.8"/>
<text x="973" y="1032.1" text-anchor="middle" fill="#6363e6" style="font-size:10px" class="b">D</text>
<circle cx="1178.5" cy="1028.5" r="9.2" fill="#0b0a4a" stroke="#4646d2" stroke-width="1.8"/>
<text x="1178.5" y="1032.1" text-anchor="middle" fill="#6363e6" style="font-size:10px" class="b">D</text>
<path d="M1232.8 1019.5H1248.8V1032.5L1240.8 1038.5L1232.8 1032.5Z" fill="#3c0b12" stroke="#e2434f" stroke-width="1.6" stroke-linejoin="round"/><text transform="translate(1240.8 1032.2) scale(0.86 1)" text-anchor="middle" fill="#f0606a" style="font-size:11px" class="b">E</text>
<path d="M1283.8 1037.5H1299.8V1025.5L1291.8 1019.5L1283.8 1025.5Z" fill="#071b19" stroke="#2a8673" stroke-width="1.6" stroke-linejoin="round"/><text transform="translate(1291.8 1032.2) scale(0.86 1)" text-anchor="middle" fill="#3f9a86" style="font-size:11px" class="b">E</text>
<path d="M1355 1037.5H1371V1025.5L1363 1019.5L1355 1025.5Z" fill="#071b19" stroke="#2a8673" stroke-width="1.6" stroke-linejoin="round"/><text transform="translate(1363 1032.2) scale(0.86 1)" text-anchor="middle" fill="#3f9a86" style="font-size:11px" class="b">E</text>
<circle cx="1387.5" cy="1028.5" r="9.2" fill="#0b0a4a" stroke="#4646d2" stroke-width="1.8"/>
<path d="M1386.7 1037.5H1402.7V1025.5L1394.7 1019.5L1386.7 1025.5Z" fill="#071b19" stroke="#2a8673" stroke-width="1.6" stroke-linejoin="round"/><text transform="translate(1394.7 1032.2) scale(0.86 1)" text-anchor="middle" fill="#3f9a86" style="font-size:11px" class="b">E</text>
<path d="M1453.9 1019.5H1469.9V1032.5L1461.9 1038.5L1453.9 1032.5Z" fill="#3c0b12" stroke="#e2434f" stroke-width="1.6" stroke-linejoin="round"/><text transform="translate(1461.9 1032.2) scale(0.86 1)" text-anchor="middle" fill="#f0606a" style="font-size:11px" class="b">E</text>
<path d="M1493 1019.5H1509V1032.5L1501 1038.5L1493 1032.5Z" fill="#3c0b12" stroke="#e2434f" stroke-width="1.6" stroke-linejoin="round"/><text transform="translate(1501 1032.2) scale(0.86 1)" text-anchor="middle" fill="#f0606a" style="font-size:11px" class="b">E</text>
<path d="M1559.9 1019.5H1575.9V1032.5L1567.9 1038.5L1559.9 1032.5Z" fill="#3c0b12" stroke="#e2434f" stroke-width="1.6" stroke-linejoin="round"/><text transform="translate(1567.9 1032.2) scale(0.86 1)" text-anchor="middle" fill="#f0606a" style="font-size:11px" class="b">E</text>
<circle cx="1599.5" cy="1028.5" r="9.2" fill="#0b0a4a" stroke="#4646d2" stroke-width="1.8"/>
<path d="M1598.8 1020H1615.8V1037H1598.8Z" fill="#3d0a45" stroke="#d633e6" stroke-width="1.6" stroke-linejoin="round"/><text transform="translate(1607.3 1032.2) scale(0.86 1)" text-anchor="middle" fill="#e45cf0" style="font-size:11px" class="b">E</text>
<circle cx="1607.4" cy="1004.8" r="8.8" fill="#2a0a35" stroke="#b56ad0" stroke-width="1.6"/><path d="M1609.2 999.2L1603.6 1005.6H1607.2L1605.4 1010.4L1611.2 1004H1607.6Z" fill="#e06be0"/>
<text transform="translate(16.20 42.90) scale(0.8122 1)" fill="#c8c8c8" stroke="#c8c8c8" stroke-width="0.28">GOFORE PLC</text>
<text transform="translate(84.00 42.90) scale(0.7508 1)" fill="#c8c8c8" stroke="#c8c8c8" stroke-width="0.28">·</text>
<text transform="translate(90.10 42.90) scale(0.8722 1)" fill="#c8c8c8" stroke="#c8c8c8" stroke-width="0.28">1W</text>
<text transform="translate(109.90 42.90) scale(0.7508 1)" fill="#c8c8c8" stroke="#c8c8c8" stroke-width="0.28">·</text>
<text transform="translate(116.40 42.90) scale(0.8095 1)" fill="#c8c8c8" stroke="#c8c8c8" stroke-width="0.28">OMXHEX</text>
<text transform="translate(163.80 42.90) scale(0.9299 1)" fill="#c8c8c8" stroke="#c8c8c8" stroke-width="0.28">O<tspan fill="#e25555" stroke="#e25555">20.00</tspan></text>
<text transform="translate(206.00 42.90) scale(0.9330 1)" fill="#c8c8c8" stroke="#c8c8c8" stroke-width="0.28">H<tspan fill="#e25555" stroke="#e25555">20.00</tspan></text>
<text transform="translate(247.40 42.90) scale(0.9482 1)" fill="#c8c8c8" stroke="#c8c8c8" stroke-width="0.28">L<tspan fill="#e25555" stroke="#e25555">16.24</tspan></text>
<text transform="translate(287.40 42.90) scale(0.9227 1)" fill="#c8c8c8" stroke="#c8c8c8" stroke-width="0.28">C<tspan fill="#e25555" stroke="#e25555">16.24</tspan></text>
<text transform="translate(329.00 42.90) scale(0.8949 1)" fill="#e25555" stroke="#e25555" stroke-width="0.28">−1.84 (−10.18%)</text>
<text transform="translate(16.20 58.90) scale(0.9096 1)" fill="#c8c8c8" stroke="#c8c8c8" stroke-width="0.28">EMA (30, close, 0, SMA, 30)</text>
<text transform="translate(159.80 58.90) scale(0.9259 1)" fill="#e9e96f" class="b">20.71</text>
<text transform="translate(16.20 74.90) scale(0.9096 1)" fill="#c8c8c8" stroke="#c8c8c8" stroke-width="0.28">EMA (10, close, 0, SMA, 10)</text>
<text transform="translate(160.30 74.90) scale(0.9325 1)" fill="#ffffff" class="b">18.94</text>
<text transform="translate(1870.40 64.25) scale(1.0318 1)" fill="#c3ccc8" style="font-size:11px" stroke="#c3ccc8" stroke-width="0.3">32.00</text>
<text transform="translate(1870.40 94.81) scale(1.0318 1)" fill="#c3ccc8" style="font-size:11px" stroke="#c3ccc8" stroke-width="0.3">30.00</text>
<text transform="translate(1870.40 127.48) scale(1.0318 1)" fill="#c3ccc8" style="font-size:11px" stroke="#c3ccc8" stroke-width="0.3">28.00</text>
<text transform="translate(1870.40 162.57) scale(1.0318 1)" fill="#c3ccc8" style="font-size:11px" stroke="#c3ccc8" stroke-width="0.3">26.00</text>
<text transform="translate(1870.40 200.47) scale(1.0318 1)" fill="#c3ccc8" style="font-size:11px" stroke="#c3ccc8" stroke-width="0.3">24.00</text>
<text transform="translate(1870.40 241.67) scale(1.0318 1)" fill="#c3ccc8" style="font-size:11px" stroke="#c3ccc8" stroke-width="0.3">22.00</text>
<text transform="translate(1870.40 275.10) scale(1.0318 1)" fill="#c3ccc8" style="font-size:11px" stroke="#c3ccc8" stroke-width="0.3">20.50</text>
<text transform="translate(1870.40 311.08) scale(1.0318 1)" fill="#c3ccc8" style="font-size:11px" stroke="#c3ccc8" stroke-width="0.3">19.00</text>
<text transform="translate(1870.40 350.02) scale(1.0318 1)" fill="#c3ccc8" style="font-size:11px" stroke="#c3ccc8" stroke-width="0.3">17.50</text>
<text transform="translate(1870.40 423.01) scale(1.0318 1)" fill="#c3ccc8" style="font-size:11px" stroke="#c3ccc8" stroke-width="0.3">15.00</text>
<text transform="translate(1870.40 455.68) scale(1.0318 1)" fill="#c3ccc8" style="font-size:11px" stroke="#c3ccc8" stroke-width="0.3">14.00</text>
<text transform="translate(1870.40 490.77) scale(1.0318 1)" fill="#c3ccc8" style="font-size:11px" stroke="#c3ccc8" stroke-width="0.3">13.00</text>
<text transform="translate(1870.40 528.67) scale(1.0318 1)" fill="#c3ccc8" style="font-size:11px" stroke="#c3ccc8" stroke-width="0.3">12.00</text>
<text transform="translate(1870.40 569.87) scale(1.0634 1)" fill="#c3ccc8" style="font-size:11px" stroke="#c3ccc8" stroke-width="0.3">11.00</text>
<text transform="translate(1870.40 605.63) scale(1.0318 1)" fill="#c3ccc8" style="font-size:11px" stroke="#c3ccc8" stroke-width="0.3">10.20</text>
<text transform="translate(1870.40 634.33) scale(1.0464 1)" fill="#c3ccc8" style="font-size:11px" stroke="#c3ccc8" stroke-width="0.3">9.60</text>
<text transform="translate(1870.40 664.89) scale(1.0464 1)" fill="#c3ccc8" style="font-size:11px" stroke="#c3ccc8" stroke-width="0.3">9.00</text>
<text transform="translate(1870.40 697.56) scale(1.0464 1)" fill="#c3ccc8" style="font-size:11px" stroke="#c3ccc8" stroke-width="0.3">8.40</text>
<text transform="translate(1870.40 732.65) scale(1.0464 1)" fill="#c3ccc8" style="font-size:11px" stroke="#c3ccc8" stroke-width="0.3">7.80</text>
<text transform="translate(1870.40 770.55) scale(1.0464 1)" fill="#c3ccc8" style="font-size:11px" stroke="#c3ccc8" stroke-width="0.3">7.20</text>
<text transform="translate(1870.40 804.63) scale(1.0464 1)" fill="#c3ccc8" style="font-size:11px" stroke="#c3ccc8" stroke-width="0.3">6.70</text>
<text transform="translate(1870.40 833.78) scale(1.0464 1)" fill="#c3ccc8" style="font-size:11px" stroke="#c3ccc8" stroke-width="0.3">6.30</text>
<text transform="translate(1870.40 864.84) scale(1.0464 1)" fill="#c3ccc8" style="font-size:11px" stroke="#c3ccc8" stroke-width="0.3">5.90</text>
<text transform="translate(1870.40 898.08) scale(1.0464 1)" fill="#c3ccc8" style="font-size:11px" stroke="#c3ccc8" stroke-width="0.3">5.50</text>
<text transform="translate(1870.40 933.83) scale(1.0464 1)" fill="#c3ccc8" style="font-size:11px" stroke="#c3ccc8" stroke-width="0.3">5.10</text>
<text transform="translate(1870.40 964.51) scale(1.0318 1)" fill="#c3ccc8" style="font-size:11px" stroke="#c3ccc8" stroke-width="0.3">4.780</text>
<text transform="translate(1870.40 993.10) scale(1.0318 1)" fill="#c3ccc8" style="font-size:11px" stroke="#c3ccc8" stroke-width="0.3">4.500</text>
<text transform="translate(1870.40 1021.28) scale(1.0318 1)" fill="#c3ccc8" style="font-size:11px" stroke="#c3ccc8" stroke-width="0.3">4.240</text>
<rect x="1863.0" y="25.5" width="47.0" height="32.0" fill="#020404"/>
<rect x="1865.9" y="29.2" width="41.2" height="24.2" rx="3.8" fill="#0e1111" stroke="#2c3130" stroke-width="1.5"/>
<text transform="translate(1873.80 45.70) scale(0.8367 1)" fill="#e4e7e6" stroke="#e4e7e6" stroke-width="0.28">EUR</text>
<rect x="1812.6" y="372.9" width="91.6" height="17.8" rx="2" fill="#1a0c0c"/><rect x="1861.8" y="372.9" width="42.4" height="30.7" rx="2" fill="#1a0c0c"/>
<rect x="1813.5" y="373.8" width="48.6" height="16" rx="1.5" fill="#ee5251"/>
<text transform="translate(1817.00 385.90) scale(0.8664 1)" fill="#ffffff" class="b" style="font-size:11px">GOFORE</text>
<rect x="1862.6" y="373.8" width="40.7" height="28.9" rx="1.5" fill="#ee5251"/>
<text transform="translate(1871.40 385.90) scale(0.9664 1)" fill="#ffffff" class="b" style="font-size:11px">16.24</text>
<text transform="translate(1870.40 399.00) scale(0.9642 1)" fill="#fcdcdb" class="b" style="font-size:11px">3d 9h</text>
<text transform="translate(100.99 1056.90) scale(0.9853 1)" fill="#c2d9d2" class="b" text-anchor="middle">2018</text>
<text transform="translate(203.46 1056.90) scale(0.8768 1)" fill="#c2d9d2" class="b" text-anchor="middle">Jul</text>
<text transform="translate(309.87 1056.90) scale(0.9853 1)" fill="#c2d9d2" class="b" text-anchor="middle">2019</text>
<text transform="translate(408.39 1056.90) scale(0.8768 1)" fill="#c2d9d2" class="b" text-anchor="middle">Jul</text>
<text transform="translate(514.80 1056.90) scale(0.9853 1)" fill="#c2d9d2" class="b" text-anchor="middle">2020</text>
<text transform="translate(617.27 1056.90) scale(0.8768 1)" fill="#c2d9d2" class="b" text-anchor="middle">Jul</text>
<text transform="translate(719.74 1056.90) scale(0.9853 1)" fill="#c2d9d2" class="b" text-anchor="middle">2021</text>
<text transform="translate(822.21 1056.90) scale(0.8768 1)" fill="#c2d9d2" class="b" text-anchor="middle">Jul</text>
<text transform="translate(924.68 1056.90) scale(0.9853 1)" fill="#c2d9d2" class="b" text-anchor="middle">2022</text>
<text transform="translate(1027.15 1056.90) scale(0.8768 1)" fill="#c2d9d2" class="b" text-anchor="middle">Jul</text>
<text transform="translate(1129.61 1056.90) scale(0.9853 1)" fill="#c2d9d2" class="b" text-anchor="middle">2023</text>
<text transform="translate(1232.08 1056.90) scale(0.8768 1)" fill="#c2d9d2" class="b" text-anchor="middle">Jul</text>
<text transform="translate(1334.55 1056.90) scale(0.9853 1)" fill="#c2d9d2" class="b" text-anchor="middle">2024</text>
<text transform="translate(1437.02 1056.90) scale(0.8768 1)" fill="#c2d9d2" class="b" text-anchor="middle">Jul</text>
<text transform="translate(1543.43 1056.90) scale(0.9853 1)" fill="#c2d9d2" class="b" text-anchor="middle">2025</text>
<text transform="translate(1645.90 1056.90) scale(0.8768 1)" fill="#c2d9d2" class="b" text-anchor="middle">Jul</text>
<text transform="translate(1748.37 1056.90) scale(0.9853 1)" fill="#c2d9d2" class="b" text-anchor="middle">2026</text>
<text transform="translate(1850.84 1056.90) scale(0.8768 1)" fill="#c2d9d2" class="b" text-anchor="middle">Jul</text>
<g fill="#131722"><path d="M9.3 1077.9H16.8V1086.6H13V1081H9.3Z"/><circle cx="19.9" cy="1079.5" r="1.75"/><path d="M22.9 1077.9H27.2L24 1086.6H19.6Z"/></g>
<text transform="translate(30.40 1086.60) scale(0.9624 1)" fill="#131722" style="font-size:12.5px" stroke="#131722" stroke-width="0.28">TradingView</text>
</svg></body></html>
